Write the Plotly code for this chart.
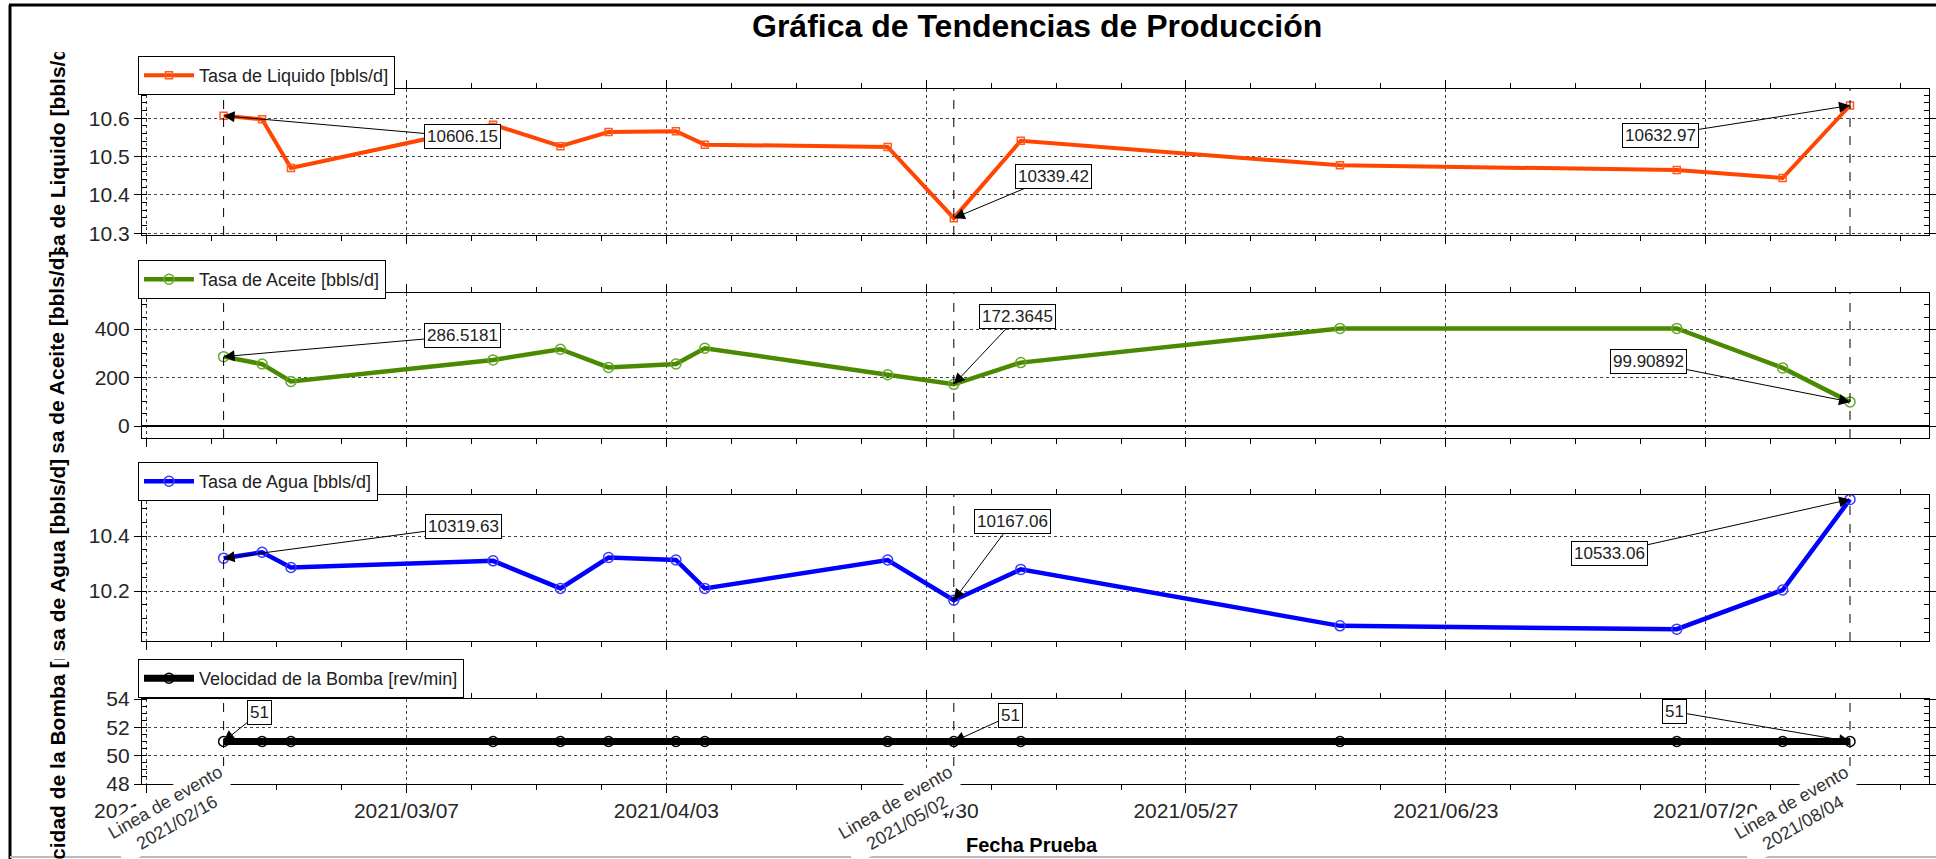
import plotly.graph_objects as go
from datetime import datetime

# ---- data -------------------------------------------------------------
fechas = ["2021-02-16", "2021-02-20", "2021-02-23", "2021-03-16", "2021-03-23",
          "2021-03-28", "2021-04-04", "2021-04-07", "2021-04-26", "2021-05-02 21:00",
          "2021-05-09 20:00", "2021-06-12", "2021-07-17", "2021-07-28", "2021-08-04"]

liquido = [10606.15, 10597, 10470, 10583, 10527, 10564, 10566, 10531, 10525,
           10339.42, 10541, 10477, 10465, 10444, 10632.97]
aceite = [286.5181, 256, 184, 273, 317, 242, 256, 321, 212,
          172.3645, 262, 403, 403, 240, 99.90892]
agua = [10319.63, 10341, 10286, 10310, 10210, 10322, 10313, 10210, 10313,
        10167.06, 10279, 10074, 10062, 10204, 10533.06]
bomba = [51, 51, 51, 51, 51, 51, 51, 51, 51, 51, 51, 51, 51, 51, 51]

eventos = ["2021-02-16", "2021-05-02 21:00", "2021-08-04"]

nombres = ["Tasa de Liquido [bbls/d]", "Tasa de Aceite [bbls/d]",
           "Tasa de Agua [bbls/d]", "Velocidad de la Bomba [rev/min]"]

ticks_liq = [10300, 10400, 10500, 10600]
ticks_liq_txt = ["10.3", "10.4", "10.5", "10.6"]
ticks_ace = [0, 200, 400]
ticks_ace_txt = ["0", "200", "400"]
ticks_agu = [10200, 10400]
ticks_agu_txt = ["10.2", "10.4"]
ticks_bom = [48, 50, 52, 54]
ticks_bom_txt = ["48", "50", "52", "54"]

# ---- geometry (pixels of a 1936 x 859 canvas) -------------------------
W, H = 1936, 859
FONT = "Liberation Sans, Arial, sans-serif"


def px_x(v):
    return v / W


def px_y(v):
    return 1 - v / H


X_LEFT, X_RIGHT = 142, 1929
paneles = [(89, 235), (293, 438), (495, 641), (699, 784)]
# cell of each panel the rotated label is clipped to, and nbsp padding
# (positive: after the text, negative: before) that places the text centre
ventanas = [(52, 252), (252, 453), (453, 652), (660, 859)]
relleno = [3, 4, 5, -6]
leyendas_top = [56, 260, 462, 659]

rangos = [[10295.5, 10676], [-49, 549], [10019, 10549], [48, 54]]
menores = [20, 50, 50, 0.5]
ticks = [(ticks_liq, ticks_liq_txt), (ticks_ace, ticks_ace_txt),
         (ticks_agu, ticks_agu_txt), (ticks_bom, ticks_bom_txt)]

estilos = [
    dict(color="#FF4500", width=4, symbol="square-open", msize=7, mcolor="#FF5A1F"),
    dict(color="#4A8A00", width=4.5, symbol="circle-open", msize=10, mcolor="#66A82A"),
    dict(color="#0000FF", width=4.5, symbol="circle-open", msize=10, mcolor="#3A3AFF"),
    dict(color="#000000", width=7, symbol="circle-open", msize=10, mcolor="#000000"),
]
series = [liquido, aceite, agua, bomba]

DAY = 86400000
x_range = ["2021-02-07 12:30", "2021-08-12 05:00"]

fig = go.Figure()
layout = dict(
    template="none",
    width=W, height=H, margin=dict(l=0, r=0, t=0, b=0, autoexpand=False),
    paper_bgcolor="white", plot_bgcolor="white",
    font=dict(family=FONT, color="#262626"),
    showlegend=True,
)

annotations = []
shapes = []

for i in range(4):
    k = "" if i == 0 else str(i + 1)
    top, bot = paneles[i]
    st = estilos[i]
    fig.add_trace(go.Scatter(
        x=fechas, y=series[i], name=nombres[i], mode="lines+markers",
        xaxis="x" + k, yaxis="y" + k, legend="legend" + k,
        line=dict(color=st["color"], width=st["width"]),
        marker=dict(symbol=st["symbol"], size=st["msize"],
                    color=st["mcolor"], line=dict(width=1.5, color=st["mcolor"])),
    ))

    layout["xaxis" + k] = dict(
        domain=[px_x(X_LEFT), px_x(X_RIGHT)], anchor="y" + k, type="date",
        range=x_range, automargin=False,
        showline=True, linecolor="black", linewidth=1.2,
        mirror="ticks", ticks="outside", ticklen=8, tickwidth=1.2, tickcolor="black",
        tick0="2021-02-08", dtick=27 * DAY, tickformat="%Y/%m/%d",
        showticklabels=(i == 3), tickfont=dict(size=21, color="#262626"),
        showgrid=True, gridcolor="#444", griddash="dot", gridwidth=1,
        zeroline=False,
        minor=dict(ticks="outside", ticklen=5, tickcolor="black", tickwidth=1.2,
                   tick0="2021-02-08", dtick=6.75 * DAY, showgrid=False),
    )
    tv, tt = ticks[i]
    layout["yaxis" + k] = dict(
        domain=[px_y(bot), px_y(top)], anchor="x" + k, range=rangos[i],
        automargin=False,
        tickvals=tv, ticktext=tt, showline=True, linecolor="black", linewidth=1.2,
        mirror="ticks", ticks="outside", ticklen=7, tickwidth=1.2, tickcolor="black",
        tickfont=dict(size=21, color="#262626"),
        showgrid=True, gridcolor="#444", griddash="dot", gridwidth=1,
        zeroline=(i == 1), zerolinecolor="black", zerolinewidth=2,
        minor=dict(ticks="inside", ticklen=5, tickcolor="black", tickwidth=1.2,
                   tick0=tv[0], dtick=menores[i], showgrid=False),
    )

    layout["legend" + k] = dict(
        x=px_x(138), y=px_y(leyendas_top[i]), xanchor="left", yanchor="top",
        bgcolor="white", bordercolor="black", borderwidth=1,
        font=dict(size=18, color="#222", family=FONT), itemwidth=50,
    )

    # vertical event markers inside each panel
    for ev in eventos:
        shapes.append(dict(type="line", xref="x" + k, yref="y" + k + " domain",
                           x0=ev, x1=ev, y0=0, y1=1,
                           line=dict(color="black", width=1, dash="dash")))

    # rotated axis label, clipped to its panel cell
    w0, w1 = ventanas[i]
    pad = "\u00a0" * abs(relleno[i])
    etiqueta = nombres[i] + pad if relleno[i] > 0 else pad + nombres[i]
    annotations.append(dict(
        text="<b>" + etiqueta + "</b>",
        xref="paper", yref="paper", x=px_x(57), y=px_y((w0 + w1) / 2),
        xanchor="center", yanchor="middle", textangle=-90, showarrow=False,
        width=w1 - w0, height=26, align="center",
        font=dict(size=21, color="black", family=FONT),
    ))

# value callouts: (panel, point index, box offset x, box offset y)
callouts = [
    (0, 0, 239, 21), (0, 9, 100, -42), (0, 14, -190, 30),
    (1, 0, 239, -21), (1, 9, 64, -68), (1, 14, -202, -40),
    (2, 0, 240, -32), (2, 9, 59, -79), (2, 14, -241, 54),
    (3, 0, 36, -29), (3, 9, 57, -26), (3, 14, -176, -30),
]
for p, idx, ax, ay in callouts:
    k = "" if p == 0 else str(p + 1)
    v = series[p][idx]
    annotations.append(dict(
        x=fechas[idx], y=v, xref="x" + k, yref="y" + k,
        text=f"{v:.7g}", showarrow=True, arrowhead=2, arrowsize=2.2,
        arrowwidth=1, arrowcolor="black", ax=ax, ay=ay, standoff=0,
        bgcolor="white", bordercolor="black", borderwidth=1, borderpad=2,
        font=dict(size=17, color="#222", family=FONT),
    ))

# event captions under the bottom panel
for ev in eventos:
    d = datetime.fromisoformat(ev)
    annotations.append(dict(
        x=ev, xref="x4", y=px_y(759), yref="paper", xshift=16,
        xanchor="right", yanchor="top", textangle=-30, showarrow=False,
        text="Linea de evento<br>" + d.strftime("%Y/%m/%d"),
        bgcolor="white", font=dict(size=18, color="#333", family=FONT),
    ))

annotations.append(dict(
    text="<b>Gráfica de Tendencias de Producción</b>", xref="paper", yref="paper",
    x=px_x(1037), y=px_y(26), xanchor="center", yanchor="middle", showarrow=False,
    font=dict(size=32, color="black", family=FONT),
))
annotations.append(dict(
    text="<b>Fecha Prueba</b>", xref="paper", yref="paper",
    x=px_x(1032), y=px_y(845), xanchor="center", yanchor="middle", showarrow=False,
    font=dict(size=20, color="black", family=FONT),
))

# window frame
shapes += [
    dict(type="line", xref="paper", yref="paper", x0=px_x(9), x1=1,
         y0=px_y(5), y1=px_y(5), line=dict(color="black", width=3)),
    dict(type="line", xref="paper", yref="paper", x0=px_x(10), x1=px_x(10),
         y0=px_y(5), y1=0, line=dict(color="black", width=3)),
    dict(type="line", xref="paper", yref="paper", x0=px_x(10), x1=1,
         y0=px_y(857), y1=px_y(857), line=dict(color="#BBBBBB", width=2)),
]

layout["annotations"] = annotations
layout["shapes"] = shapes
fig.update_layout(**layout)

fig.write_html("out.html")
